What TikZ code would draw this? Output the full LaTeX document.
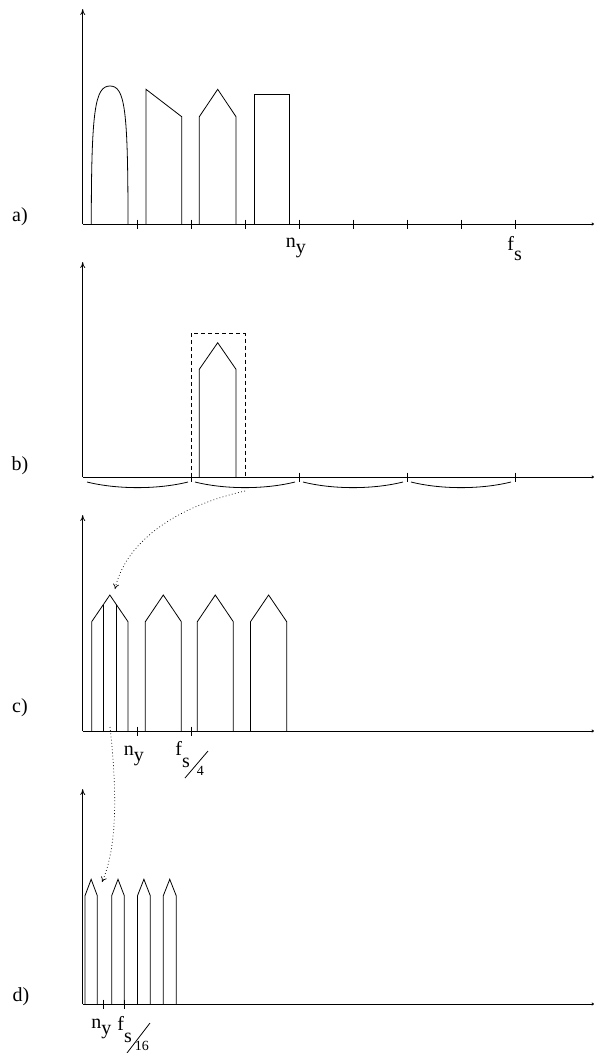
\documentclass[tikz,border=0pt]{standalone}
\usepackage{fontspec}
\setmainfont{Liberation Serif}
\usetikzlibrary{arrows.meta}
\begin{document}
\begin{tikzpicture}[x=1pt,y=-1pt, line width=0.8pt,
  yaxis/.style={-{To[length=6pt,width=5pt]}},
  xaxis/.style={-{To[length=2.5pt,width=3pt]}},
  lbl/.style={font=\fontsize{20}{20}\selectfont, inner sep=0pt},
  smalllbl/.style={font=\fontsize{14}{14}\selectfont, inner sep=0pt},
  guide/.style={line width=0.7pt, dash pattern=on 0.8pt off 2.4pt, -{To[length=5pt,width=6pt]}},
  boxdash/.style={dash pattern=on 4pt off 3pt}
]
\useasboundingbox (0,0) rectangle (595,1053);

% ---------------- panel a ----------------
\node[lbl] (la) at (20,216.5) {a)};
\draw[yaxis] (82.7,224) -- (82.7,9);
\draw[xaxis] (82.7,224) -- (594,224);
\foreach \x in {137,191,245,299,353,407,461,515} \draw (\x,219.5) -- (\x,228.5);
\draw (91.3,224) .. controls (91.3,110) and (95,86) .. (110,86)
                 .. controls (125,86) and (128,110) .. (128,224);
\draw (146,224) -- (146,89.3) -- (181.7,116.7) -- (181.7,224);
\draw (199.3,224) -- (199.3,116.7) -- (217.7,89.3) -- (236,116.7) -- (236,224);
\draw (254,224) -- (254,94) -- (289.3,94) -- (289.3,224);
\node[lbl, anchor=base west] (nya) at (285.5,247.5) {n\raisebox{-6pt}{y}};
\node[lbl, anchor=base west] (fsa) at (507,250.5) {f\raisebox{-10pt}{s}};

% ---------------- panel b ----------------
\node[lbl] (lb) at (20,466) {b)};
\draw[yaxis] (82.7,477) -- (82.7,262);
\draw[xaxis] (82.7,477) -- (594,477);
\foreach \x in {191,299,407,515} \draw (\x,472.5) -- (\x,481.5);
\foreach \a/\b in {87/188,195/295,303/403,411/511}
  \draw (\a,482) .. controls ({\a+0.3*(\b-\a)},489.5) and ({\b-0.3*(\b-\a)},489.5) .. (\b,482);
\draw[boxdash] (191,477) -- (191,333.3) -- (245,333.3) -- (245,477);
\draw (199.3,477) -- (199.3,369.3) -- (217.7,342.7) -- (236,369.3) -- (236,477);
\coordinate (gb) at (245,491);

% ---------------- panel c ----------------
\node[lbl] (lc) at (20,708) {c)};
\draw[yaxis] (82.7,731) -- (82.7,515);
\draw[xaxis] (82.7,731) -- (594,731);
\foreach \x in {137,191} \draw (\x,726.5) -- (\x,735.5);
\foreach \l/\r in {91.7/128,145.3/181.3,197.3/233.3,250.5/286.7}
  \draw (\l,731) -- (\l,621.7) -- ({(\l+\r)/2},595) -- (\r,621.7) -- (\r,731);
\draw (103,731) -- (103,605.3);
\draw (116.7,731) -- (116.7,604.9);
\coordinate (gc) at (115,589);
\coordinate (gc2) at (110,727);
\node[lbl, anchor=base west] (nyc) at (123.5,755.5) {n\raisebox{-6pt}{y}};
\node[lbl, anchor=base west] (fsc) at (175,755.5) {f\raisebox{-12pt}{s}};
\draw (208,751) -- (185,778);
\node[smalllbl, anchor=base west] (fc4) at (196.5,775.5) {4};

% ---------------- panel d ----------------
\node[lbl] (ld) at (21,996.5) {d)};
\draw[yaxis] (82.7,1004) -- (82.7,789);
\draw[xaxis] (82.7,1004) -- (594,1004);
\foreach \x in {103.3,124.3} \draw (\x,999.5) -- (\x,1008.5);
\foreach \l/\r in {85/97.3,111.7/124.3,137.5/150.3,163.3/176.2}
  \draw (\l,1004) -- (\l,895.7) -- ({(\l+\r)/2},879.3) -- (\r,895.7) -- (\r,1004);
\coordinate (gd) at (102,882);
\node[lbl, anchor=base west] (nyd) at (91,1028.5) {n\raisebox{-6pt}{y}};
\node[lbl, anchor=base west] (fsd) at (117,1030.5) {f\raisebox{-12pt}{s}};
\draw (150,1023) -- (127,1053);
\node[smalllbl, anchor=base west] (fd16) at (134.5,1050.5) {16};

% ---------------- guides ----------------
\draw[guide] (gb) .. controls (170,508) and (125,545) .. (gc);
\draw[guide] (gc2) .. controls (118,800) and (116,850) .. (gd);
\end{tikzpicture}
\end{document}
